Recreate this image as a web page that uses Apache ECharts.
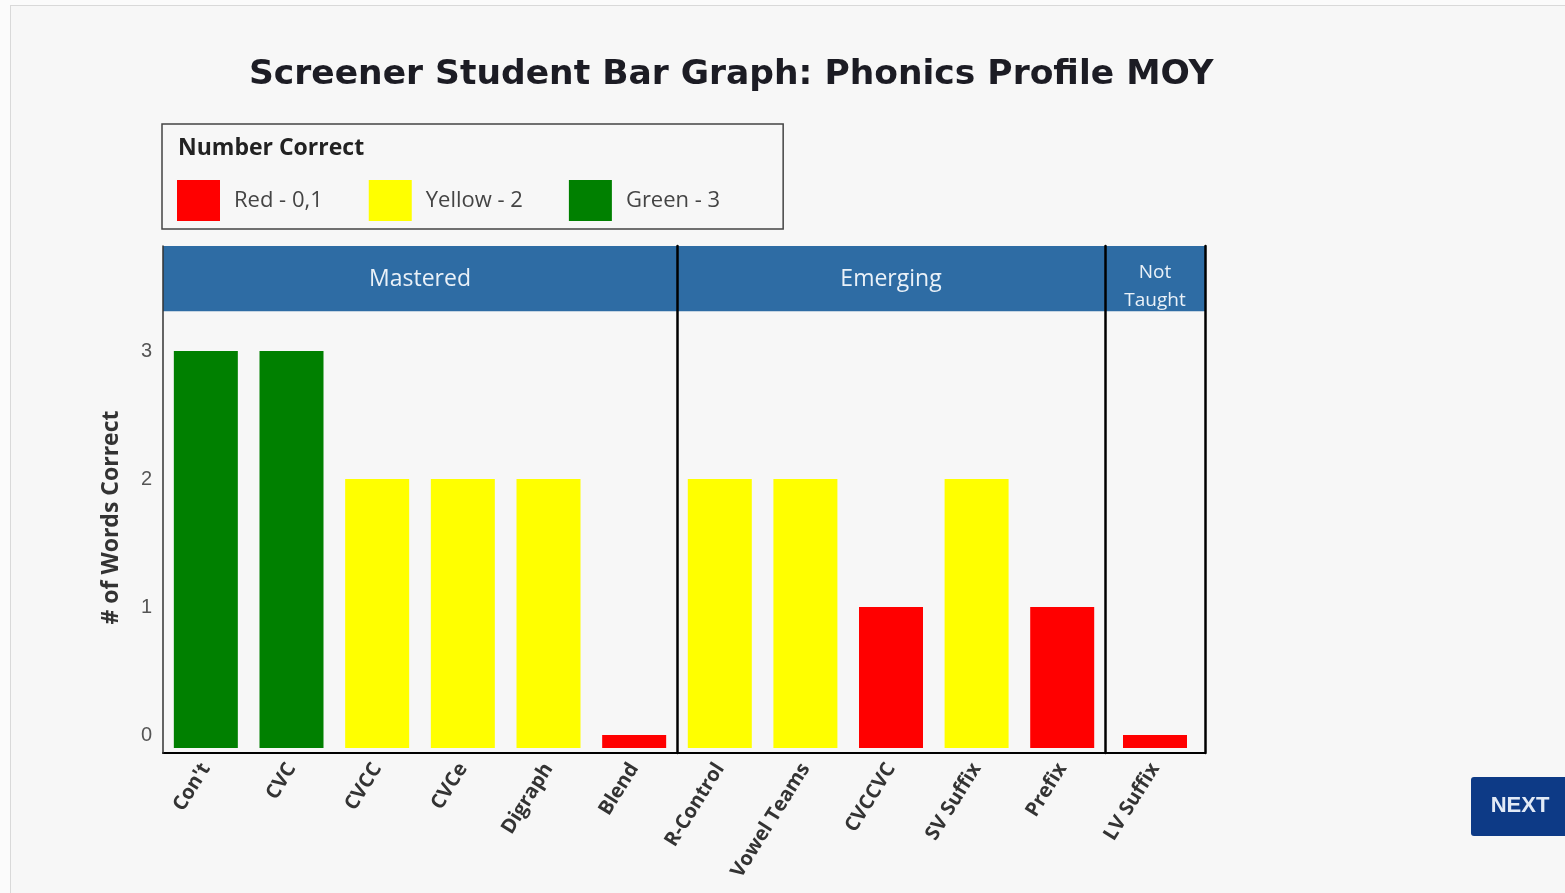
<!DOCTYPE html>
<html>
<head>
<meta charset="utf-8">
<title>Screener Student Bar Graph</title>
<script src="https://cdn.jsdelivr.net/npm/echarts@6/dist/echarts.min.js"></script>
<style>
  html, body { margin: 0; padding: 0; background: #fbfbfb; overflow: hidden; }
  #frame {
    position: absolute; left: 10px; top: 5px; width: 1600px; height: 950px;
    border-left: 1px solid #d9d9d9; border-top: 1px solid #d9d9d9; background: #f7f7f7;
  }
  #chart { position: absolute; left: 0; top: 0; width: 1565px; height: 893px; }
</style>
</head>
<body>
<div id="frame"></div>
<div id="chart"></div>
<script>
// data
const groups = ['Mastered', 'Emerging', 'Not\nTaught'];
const skillsMastered = ["Con't", 'CVC', 'CVCC', 'CVCe', 'Digraph', 'Blend'];
const scoresMastered = [3, 3, 2, 2, 2, 0];
const skillsEmerging = ['R-Control', 'Vowel Teams', 'CVCCVC', 'SV Suffix', 'Prefix'];
const scoresEmerging = [2, 2, 1, 2, 1];
const skillsNotTaught = ['LV Suffix'];
const scoresNotTaught = [0];
const yTicks = [0, 1, 2, 3];
const bands = ['Red - 0,1', 'Yellow - 2', 'Green - 3'];
const bandColors = ['#ff0000', '#ffff00', '#008000'];

const skills = [skillsMastered, skillsEmerging, skillsNotTaught];
const scores = [scoresMastered, scoresEmerging, scoresNotTaught];

// layout
const panelLeft = [163, 677, 1105];
const panelWidth = [514, 428, 100];
const plotTop = 246;
const plotHeight = 507;
const yMin = -0.14;
const yMax = 3.82;
const headerFrom = 3.31;
const barFloor = -0.1; // bars are drawn from a little below zero
const headerBlue = '#2e6ca4';
const font = 'Open Sans, sans-serif';

const bandOf = (v) => (v <= 1 ? 0 : v === 2 ? 1 : 2);

const chart = echarts.init(document.getElementById('chart'));

const grid = panelLeft.map((left, i) => ({
  left,
  top: plotTop,
  width: panelWidth[i],
  height: plotHeight,
}));

const xAxis = skills.map((data, i) => ({
  type: 'category',
  gridIndex: i,
  data,
  axisTick: { show: false },
  axisLine: { onZero: false, lineStyle: { color: '#000', width: 2 } },
  axisLabel: {
    interval: 0,
    rotate: 58,
    margin: 12,
    fontFamily: font,
    fontWeight: 'bold',
    fontSize: 20,
    color: '#333',
  },
}));

const yAxis = skills.map((_, i) => ({
  type: 'value',
  gridIndex: i,
  min: yMin,
  max: yMax,
  z: 5,
  splitLine: { show: false },
  axisTick: { show: false },
  axisLine: {
    show: true,
    lineStyle: { color: i === 0 ? '#333' : '#000', width: i === 0 ? 1.5 : 2.5 },
  },
  axisLabel: {
    show: i === 0,
    customValues: yTicks,
    margin: 11,
    fontFamily: 'Liberation Sans, sans-serif',
    fontSize: 20,
    color: '#555',
  },
}));

yAxis[0].name = '# of Words Correct';
yAxis[0].nameLocation = 'middle';
yAxis[0].nameRotate = 90;
yAxis[0].nameGap = 40;
yAxis[0].nameTextStyle = {
  fontFamily: font,
  fontWeight: 'bold',
  fontSize: 23,
  color: '#333',
  padding: [0, 36, 0, 0],
};

// right frame line of the last panel
yAxis.push({
  type: 'value',
  gridIndex: 2,
  position: 'right',
  min: yMin,
  max: yMax,
  z: 5,
  splitLine: { show: false },
  axisTick: { show: false },
  axisLabel: { show: false },
  axisLine: { show: true, lineStyle: { color: '#000', width: 2.5 } },
});

const series = [];
scores.forEach((vals, p) => {
  bands.forEach((name, b) => {
    const main = {
      type: 'bar',
      name,
      xAxisIndex: p,
      yAxisIndex: p,
      stack: 'panel' + p,
      barWidth: 64,
      itemStyle: { color: bandColors[b] },
      data: vals.map((v) => (bandOf(v) === b ? v : '-')),
    };
    if (b === 0) {
      main.markArea = {
        silent: true,
        itemStyle: { color: headerBlue },
        label: {
          show: true,
          position: 'inside',
          offset: p === 2 ? [0, 8] : [0, 1],
          fontFamily: font,
          fontWeight: 500,
          fontSize: p === 2 ? 19 : 23,
          lineHeight: 28,
          color: '#eaf1f8',
        },
        data: [[{ name: groups[p], yAxis: headerFrom }, { yAxis: yMax }]],
      };
    }
    series.push(main);
    series.push({
      type: 'bar',
      name,
      xAxisIndex: p,
      yAxisIndex: p,
      stack: 'panel' + p,
      barWidth: 64,
      itemStyle: { color: bandColors[b] },
      data: vals.map((v) => (bandOf(v) === b ? barFloor : '-')),
    });
  });
});

chart.setOption({
  animation: false,
  title: [
    {
      text: 'Screener Student Bar Graph: Phonics Profile MOY',
      left: 244,
      top: 53,
      textStyle: {
        fontFamily: 'DejaVu Sans, sans-serif',
        fontWeight: 'bold',
        fontSize: 34.5,
        color: '#1c1c24',
      },
    },
    {
      text: 'Number Correct',
      left: 173,
      top: 132,
      textStyle: { fontFamily: font, fontWeight: 'bold', fontSize: 23, color: '#222' },
    },
  ],
  legend: {
    data: bands,
    left: 162,
    top: 124,
    icon: 'rect',
    itemWidth: 43,
    itemHeight: 41,
    itemGap: 46,
    padding: [56, 63, 8, 15],
    borderColor: '#444',
    borderWidth: 1.5,
    selectedMode: false,
    textStyle: {
      fontFamily: font,
      fontSize: 22,
      color: '#444',
      padding: [0, 0, 0, 9],
    },
  },
  grid,
  xAxis,
  yAxis,
  series,
  graphic: [
    {
      type: 'group',
      left: 1471,
      top: 777,
      children: [
        {
          type: 'rect',
          shape: { x: 0, y: 0, width: 100, height: 59, r: 3 },
          style: { fill: '#0d3a86' },
        },
        {
          type: 'text',
          x: 49,
          y: 29,
          style: {
            text: 'NEXT',
            fill: '#e2eaf6',
            font: 'bold 22px Liberation Sans, Arial, sans-serif',
            align: 'center',
            verticalAlign: 'middle',
          },
        },
      ],
    },
  ],
});

window.addEventListener('resize', () => chart.resize());
</script>
</body>
</html>
